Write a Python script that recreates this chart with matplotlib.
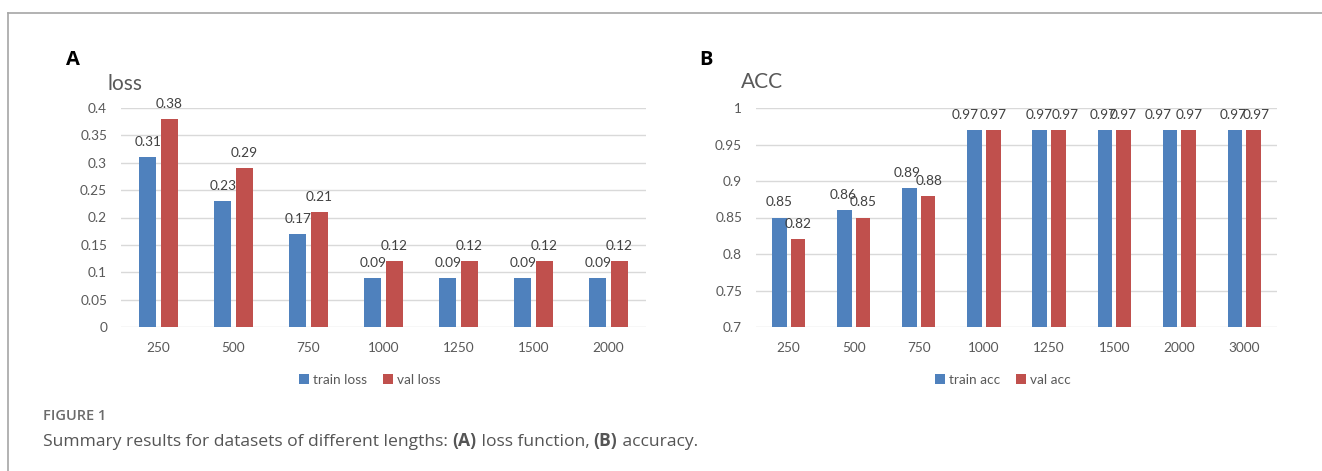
import matplotlib
matplotlib.use('Agg')
import matplotlib.pyplot as plt
from matplotlib.lines import Line2D
import numpy as np

# data
sizes_loss = ['250', '500', '750', '1000', '1250', '1500', '2000']
train_loss = [0.31, 0.23, 0.17, 0.09, 0.09, 0.09, 0.09]
val_loss = [0.38, 0.29, 0.21, 0.12, 0.12, 0.12, 0.12]

sizes_acc = ['250', '500', '750', '1000', '1250', '1500', '2000', '3000']
train_acc = [0.85, 0.86, 0.89, 0.97, 0.97, 0.97, 0.97, 0.97]
val_acc = [0.82, 0.85, 0.88, 0.97, 0.97, 0.97, 0.97, 0.97]

loss_ticks = [0, 0.05, 0.1, 0.15, 0.2, 0.25, 0.3, 0.35, 0.4]
acc_ticks = [0.7, 0.75, 0.8, 0.85, 0.9, 0.95, 1]

BLUE = '#4f81bd'
RED = '#c0504d'
GRID = '#d9d9d9'
TXT = '#595959'
CHART_FONT = ['Lato', 'DejaVu Sans']

W, H = 1322, 471
PX = 72 / 100  # points per pixel at dpi 100

# label nudges in pixels (x), where the data labels were shifted in the original
acc_train_dx = [0, -1, -2, -9.5, -1, -1.5, -12, -2]
acc_val_dx = [0, 0, 1, 0, 7, 0, 0, 2]


def fmt(v):
    return ('%.2f' % v).rstrip('0').rstrip('.')


def draw_panel(ax, cats, train, val, labels, ticks, ylim, train_dx=None, val_dx=None):
    x = np.arange(len(cats))
    w = 0.225
    off = 0.143
    b1 = ax.bar(x - off, train, w, color=BLUE, label=labels[0], zorder=3)
    b2 = ax.bar(x + off, val, w, color=RED, label=labels[1], zorder=3)
    if train_dx is None:
        train_dx = [0] * len(cats)
    if val_dx is None:
        val_dx = [0] * len(cats)
    for bars, vals, dxs in ((b1, train, train_dx), (b2, val, val_dx)):
        for b, v, dx in zip(bars, vals, dxs):
            ax.annotate(fmt(v), (b.get_x() + b.get_width() / 2, v),
                        xytext=(dx * PX, 15 * PX), textcoords='offset points',
                        ha='center', va='center', fontsize=9.8, color='#404040',
                        family=CHART_FONT, annotation_clip=False)
    ax.set_xlim(-0.5, len(cats) - 0.5)
    ax.set_ylim(*ylim)
    ax.set_yticks(ticks)
    ax.set_yticklabels([fmt(t) for t in ticks])
    ax.set_xticks(x)
    ax.set_xticklabels(cats)
    ax.yaxis.grid(True, color=GRID, lw=1.0, zorder=0)
    ax.set_axisbelow(True)
    for s in ax.spines.values():
        s.set_visible(False)
    ax.tick_params(axis='both', length=0, colors=TXT, labelsize=9.8)
    ax.tick_params(axis='y', pad=10)
    ax.tick_params(axis='x', pad=11)
    for lab in ax.get_xticklabels() + ax.get_yticklabels():
        lab.set_family(CHART_FONT)
    leg = ax.legend(loc='center', bbox_to_anchor=(0.474, -0.24), ncol=2, frameon=False,
                    handlelength=0.7, handleheight=0.7, handletextpad=0.3,
                    columnspacing=1.2, prop={'family': CHART_FONT, 'size': 9.8})
    for t in leg.get_texts():
        t.set_color(TXT)


def main():
    fig = plt.figure(figsize=(W / 100, H / 100), dpi=100)

    bottom = 1 - 327 / H
    height = (327 - 108) / H
    ax1 = fig.add_axes([121 / W, bottom, 525 / W, height])
    ax2 = fig.add_axes([756 / W, bottom, 521 / W, height])

    draw_panel(ax1, sizes_loss, train_loss, val_loss, ['train loss', 'val loss'],
               loss_ticks, (0, 0.4))
    draw_panel(ax2, sizes_acc, train_acc, val_acc, ['train acc', 'val acc'],
               acc_ticks, (0.7, 1.0), acc_train_dx, acc_val_dx)

    # panel letters and chart titles
    fig.text(66 / W, 1 - 60 / H, 'A', fontsize=14.5, fontweight='bold',
             family='Open Sans', va='center', ha='left')
    fig.text(699 / W, 1 - 60 / H, 'B', fontsize=14.5, fontweight='bold',
             family='Open Sans', va='center', ha='left')
    fig.text(108 / W, 1 - 84 / H, 'loss', fontsize=15, color=TXT,
             family=CHART_FONT, va='center', ha='left')
    fig.text(741 / W, 1 - 82 / H, 'ACC', fontsize=15, color=TXT,
             family=CHART_FONT, va='center', ha='left')

    # frame lines of the figure box
    fig.add_artist(Line2D([8 / W, 1], [1 - 13 / H] * 2, transform=fig.transFigure,
                          color='#a6a6a6', lw=1.2))
    fig.add_artist(Line2D([8 / W] * 2, [0, 1 - 13 / H], transform=fig.transFigure,
                          color='#a6a6a6', lw=1.2))

    # caption
    fig.text(43 / W, 1 - 416 / H, 'FIGURE 1', fontsize=10.5, fontweight='semibold',
             color='#6b6b6b', family='Open Sans', va='center', ha='left')
    parts = [('Summary results for datasets of different lengths: ', 'normal'),
             ('(A)', 'bold'), (' loss function, ', 'normal'),
             ('(B)', 'bold'), (' accuracy.', 'normal')]
    renderer = fig.canvas.get_renderer()
    xpos = 43 / W
    ybase = 1 - 446 / H
    for txt, wt in parts:
        t = fig.text(xpos, ybase, txt, fontsize=12.6, fontweight=wt, color='#555555',
                     family='Open Sans', va='baseline', ha='left')
        bb = t.get_window_extent(renderer=renderer)
        xpos = bb.x1 / W

    plt.savefig('out.png', dpi=100)


if __name__ == "__main__":
    main()
